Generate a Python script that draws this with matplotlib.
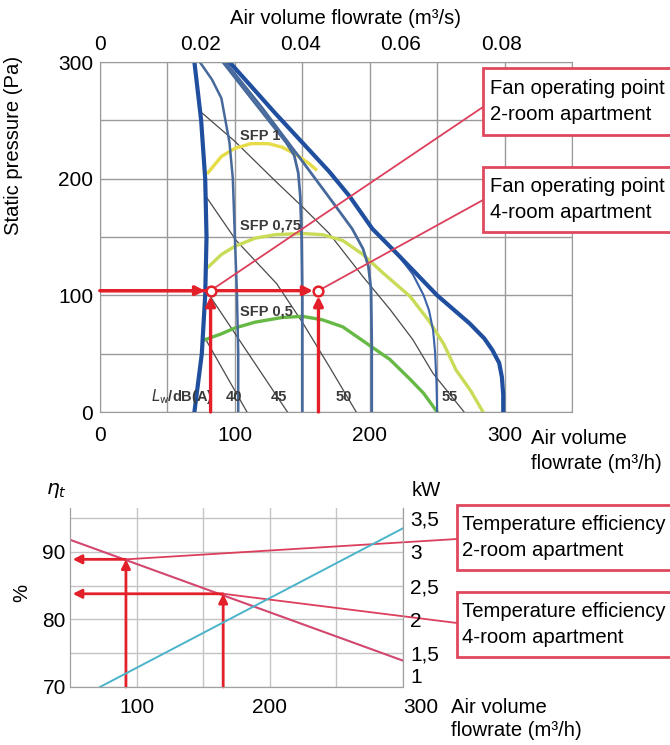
import numpy as np
import matplotlib.pyplot as plt
from matplotlib.patches import Rectangle

plt.rcParams['font.family'] = ['Liberation Sans', 'DejaVu Sans']

W, H = 670, 745

# fan characteristic curves, flow in m3/h, static pressure in Pa
fan_a_x = [70, 75, 78, 79, 78, 75.5, 70]
fan_a_y = [300, 250, 200, 150, 100, 50, 0]
fan_b_x = [74, 83, 90, 96, 98.5, 100, 101.5, 102.5, 102.5]
fan_b_y = [300, 285, 269, 231, 200, 150, 103, 50, 0]
fan_c_x = [91, 110, 125, 138, 144, 147, 148.5, 149.5, 150, 150]
fan_c_y = [300, 272, 250, 231, 220, 205, 185, 150, 100, 0]
fan_d_x = [93, 120, 150, 175, 187, 195, 199, 201, 201.5, 201.5]
fan_d_y = [300, 261, 215, 176, 157, 140, 125, 105, 60, 0]
fan_e_x = [96, 130, 170, 185, 202, 222, 232, 240, 244, 247, 248.5, 249.5, 250]
fan_e_y = [300, 256, 206, 185, 157, 133, 118, 100, 87, 70, 51, 25, 0]
fan_f_x = [96, 130, 170, 185, 202, 220, 235, 250, 262, 274, 285, 291, 296, 298, 299, 299]
fan_f_y = [300, 256, 206, 185, 157, 136, 118, 100, 88, 76, 63, 53, 42, 30, 15, 0]

# specific fan power curves
sfp1_x = [80, 90, 100, 112, 125, 135, 145, 155, 160]
sfp1_y = [205, 219, 226, 230, 230, 227, 221, 213, 208]
sfp075_x = [80, 90, 100, 115, 130, 150, 165, 180, 195, 210, 230, 244, 255, 264, 275, 284]
sfp075_y = [124, 135, 142, 149, 152, 153, 152, 147, 135, 119, 99, 78, 58, 36, 18, 0]
sfp05_x = [78, 90, 100, 115, 135, 150, 165, 180, 200, 215, 230, 240, 250]
sfp05_y = [62, 67, 72, 77, 81, 82, 79, 73, 57, 45, 28, 16, 0]

# sound power level lines dB(A)
lw40_x = [78, 109]
lw40_y = [63, 0]
lw45_x = [80, 139]
lw45_y = [102, 0]
lw50_x = [79, 101, 131, 150, 170, 190]
lw50_y = [184, 147, 110, 77, 39, 0]
lw55_x = [76, 100, 130, 150, 170, 195, 215, 232, 247, 270]
lw55_y = [256, 232, 198, 176, 153, 116, 88, 62, 33, 0]
lw_labels = ['40', '45', '50', '55']
lw_label_x = [99, 133, 181, 259]

op_x = [82, 162]
op_y = 104

# lower chart: temperature efficiency (%) and power (kW)
eff_x = [50, 300]
eff_y = [91.8, 73.9]
pow_x = [72.5, 300]
pow_kw = [1.0, 3.35]
eff_op_x = [92, 165]
eff_op_y = [88.9, 83.8]

FS = 14.6
TFS = 15
red = '#e3202a'
leader = '#dc3f5c'
boxred = '#e0485e'
dblue = '#1f4f9e'
sblue = '#47699b'
gridc = '#9a9a9a'


def fx(px):
    return px / W


def fy(py):
    return 1 - py / H


fig = plt.figure(figsize=(6.7, 7.45), dpi=100)

# ---------------- upper chart ----------------
ax = fig.add_axes([fx(100), fy(412), 472 / W, 350 / H])
ax.set_xlim(0, 350)
ax.set_ylim(0, 300)
ax.set_xticks([0, 100, 200, 300])
ax.set_xticks(np.arange(0, 351, 50), minor=True)
ax.set_yticks([0, 100, 200, 300])
ax.set_yticks(np.arange(0, 301, 50), minor=True)
ax.grid(which='both', color=gridc, lw=1.0)
ax.set_axisbelow(True)
ax.tick_params(which='both', length=0, labelsize=TFS)
ax.tick_params(axis='x', pad=10)
ax.tick_params(axis='y', pad=5)
for s in ax.spines.values():
    s.set_color(gridc)

sec = ax.secondary_xaxis('top', functions=(lambda q: q / 3720, lambda v: v * 3720))
sec.set_xticks([0, 0.02, 0.04, 0.06, 0.08])
sec.set_xticklabels(['0', '0.02', '0.04', '0.06', '0.08'])
sec.tick_params(length=0, labelsize=TFS, pad=6)
sec.spines['top'].set_visible(False)

ax.plot(lw40_x, lw40_y, color='#4a4a4a', lw=0.9)
ax.plot(lw45_x, lw45_y, color='#4a4a4a', lw=0.9)
ax.plot(lw50_x, lw50_y, color='#4a4a4a', lw=0.9)
ax.plot(lw55_x, lw55_y, color='#4a4a4a', lw=0.9)

ax.plot(sfp1_x, sfp1_y, color='#e6dc48', lw=2.4)
ax.plot(sfp075_x, sfp075_y, color='#cadb58', lw=2.4)
ax.plot(sfp05_x, sfp05_y, color='#66b944', lw=2.4)

ax.plot(fan_b_x, fan_b_y, color=sblue, lw=1.8)
ax.plot(fan_c_x, fan_c_y, color=sblue, lw=2.0)
ax.plot(fan_d_x, fan_d_y, color=sblue, lw=2.0)
ax.plot(fan_e_x, fan_e_y, color='#3a63a8', lw=1.5)
ax.plot(fan_f_x, fan_f_y, color=dblue, lw=3.0)
ax.plot(fan_a_x, fan_a_y, color=dblue, lw=3.0)

lab = dict(color='#3a3a3a', fontsize=10.5, fontweight='bold', va='center')
ax.text(104, 237, 'SFP 1', ha='left', **lab)
ax.text(104, 160, 'SFP 0,75', ha='left', **lab)
ax.text(104, 86, 'SFP 0,5', ha='left', **lab)
ax.text(38, 13, r'$L_{\rm w}$/dB(A)', ha='left', **lab)
for t, x in zip(lw_labels, lw_label_x):
    ax.text(x, 13, t, ha='center', **lab)

arr = dict(arrowstyle='-|>', color=red, lw=2.4, mutation_scale=14, shrinkA=0, shrinkB=4)
for x in op_x:
    ax.annotate('', xy=(x, op_y), xytext=(0, op_y), arrowprops=arr)
    ax.annotate('', xy=(x, op_y), xytext=(x, 0), arrowprops=arr)
ax.plot(op_x, [op_y] * len(op_x), 'o', mfc='white', mec=red, ms=7, mew=1.8, zorder=6)

ax.annotate('', xy=(fx(483), fy(107)), xycoords='figure fraction',
            xytext=(op_x[0], op_y), textcoords='data',
            arrowprops=dict(arrowstyle='-', color=leader, lw=1.3, shrinkA=3, shrinkB=0))
ax.annotate('', xy=(fx(483), fy(200)), xycoords='figure fraction',
            xytext=(op_x[1], op_y), textcoords='data',
            arrowprops=dict(arrowstyle='-', color=leader, lw=1.3, shrinkA=3, shrinkB=0))

fig.text(fx(14), fy(145), 'Static pressure (Pa)', rotation=90, ha='center', va='center', fontsize=FS)
fig.text(fx(346), fy(19), 'Air volume flowrate (m³/s)', ha='center', va='center', fontsize=FS)
fig.text(fx(531), fy(451), 'Air volume\nflowrate (m³/h)', ha='left', va='center', fontsize=FS,
         linespacing=1.38)


def label_box(x0, y0, y1, txt, tx):
    fig.add_artist(Rectangle((fx(x0), fy(y1)), (W + 5 - x0) / W, (y1 - y0) / H,
                             transform=fig.transFigure, fc='white', ec=boxred, lw=2.0,
                             clip_on=False, zorder=5))
    fig.text(fx(tx), fy((y0 + y1) / 2), txt, ha='left', va='center', fontsize=FS,
             linespacing=1.45, zorder=6)


label_box(483, 68, 135, 'Fan operating point\n2-room apartment', 490)
label_box(483, 167, 232, 'Fan operating point\n4-room apartment', 490)

# ---------------- lower chart ----------------
bax = fig.add_axes([fx(70), fy(687), 333 / W, 179 / H])
bax.set_xlim(50, 300)
bax.set_ylim(70, 96.5)
bax.set_xticks([100, 200, 300])
bax.set_xticklabels(['100', '200', '300'])
bax.set_xticks([150, 250], minor=True)
bax.set_yticks([70, 80, 90])
bax.set_yticks([75, 85, 95], minor=True)
bax.grid(which='both', color='#c4c4c4', lw=1.0)
bax.set_axisbelow(True)
bax.tick_params(which='both', length=0, labelsize=TFS)
bax.tick_params(axis='x', pad=8)
bax.tick_params(axis='y', pad=3)
bax.get_xticklabels()[-1].set_horizontalalignment('left')
bax.spines['top'].set_visible(False)
for s in ['left', 'right', 'bottom']:
    bax.spines[s].set_color('#a0a0a0')

bax2 = bax.twinx()
bax2.set_ylim(1, 1 + 26.5 / 10)
bax2.set_yticks([1, 1.5, 2, 2.5, 3, 3.5])
bax2.set_yticklabels(['1', '1,5', '2', '2,5', '3', '3,5'])
bax2.tick_params(length=0, labelsize=TFS, pad=5)
bax2.spines['top'].set_visible(False)
for s in ['left', 'right', 'bottom']:
    bax2.spines[s].set_color('#a0a0a0')
bax2.get_yticklabels()[0].set_verticalalignment('bottom')

bax2.plot(pow_x, pow_kw, color='#4ab4c9', lw=1.4)
bax.plot(eff_x, eff_y, color='#d2476d', lw=1.5)

barr = dict(arrowstyle='-|>', color=red, lw=2.0, mutation_scale=13, shrinkA=0, shrinkB=0)
for x, y in zip(eff_op_x, eff_op_y):
    bax.annotate('', xy=(52, y), xytext=(x, y), arrowprops=barr)
    bax.annotate('', xy=(x, y), xytext=(x, 70), arrowprops=barr)

bax.annotate('', xy=(fx(457), fy(539)), xycoords='figure fraction',
             xytext=(eff_op_x[0], eff_op_y[0]), textcoords='data',
             arrowprops=dict(arrowstyle='-', color=leader, lw=1.3, shrinkA=0, shrinkB=0))
bax.annotate('', xy=(fx(457), fy(623)), xycoords='figure fraction',
             xytext=(eff_op_x[1], eff_op_y[1]), textcoords='data',
             arrowprops=dict(arrowstyle='-', color=leader, lw=1.3, shrinkA=0, shrinkB=0))

fig.text(fx(56), fy(490), r'$\eta_t$', ha='center', va='center', fontsize=FS)
fig.text(fx(412), fy(490), 'kW', ha='left', va='center', fontsize=FS)
fig.text(fx(22), fy(593), '%', rotation=90, ha='center', va='center', fontsize=FS)
fig.text(fx(451), fy(719), 'Air volume\nflowrate (m³/h)', ha='left', va='center', fontsize=FS,
         linespacing=1.33)

label_box(457, 505, 570, 'Temperature efficiency\n2-room apartment', 462)
label_box(457, 592, 657, 'Temperature efficiency\n4-room apartment', 462)

fig.savefig('out.png', dpi=100)
